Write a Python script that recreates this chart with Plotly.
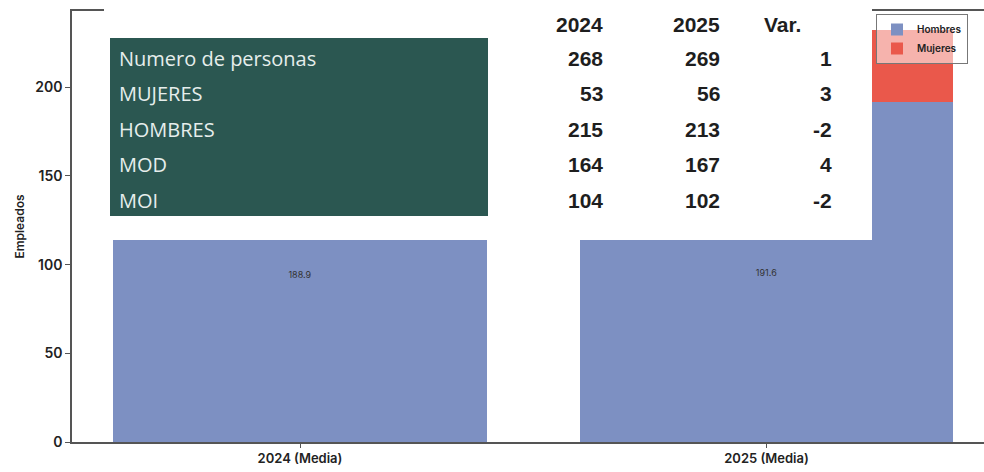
import plotly.graph_objects as go

# ---- data ----
categories = ["2024 (Media)", "2025 (Media)"]
hombres = [188.9, 191.6]
mujeres = [39.5, 40.5]

table_rows = ["Numero de personas", "MUJERES", "HOMBRES", "MOD", "MOI"]
table_headers = ["2024", "2025", "Var."]
vals_2024 = [268, 53, 215, 164, 104]
vals_2025 = [269, 56, 213, 167, 102]
vals_var = [1, 3, -2, 4, -2]

# ---- layout geometry (pixels) ----
W, H = 984, 472
ML, MR, MT, MB = 72, 0, 11, 30
PW, PH = W - ML - MR, H - MT - MB


def px(x):
    return (x - ML) / PW


def py(y):
    return (H - MB - y) / PH


fig = go.Figure()
fig.add_trace(go.Bar(
    x=categories, y=hombres, name="Hombres", marker_color="#7d90c2",
    marker_line_width=0, width=0.8,
    text=[f"{v:.1f}" for v in hombres], textposition="inside",
    insidetextanchor="middle", textfont=dict(size=9, color="#333333"),
))
fig.add_trace(go.Bar(
    x=categories, y=mujeres, name="Mujeres", marker_color="#ea584b",
    marker_line_width=0, width=0.8,
))

shapes = [
    dict(type="rect", xref="paper", yref="paper", x0=px(104), x1=px(872),
         y0=py(240), y1=py(-5), fillcolor="white", line_width=0, layer="above"),
    dict(type="rect", xref="paper", yref="paper", x0=px(110), x1=px(488),
         y0=py(216), y1=py(38), fillcolor="#2b5751", line_width=0, layer="above"),
]

annotations = []
row_y = [58, 94, 129, 164, 200]
for lab, y in zip(table_rows, row_y):
    annotations.append(dict(
        text=lab, xref="paper", yref="paper", x=px(117), y=py(y),
        xanchor="left", yanchor="middle", showarrow=False,
        font=dict(family="Open Sans", size=20, color="#e6eeec")))

num_font = dict(family="Liberation Sans Narrow, Liberation Sans", size=21, color="#1e1e1e")
col_right = [605, 722, 834]
for vals, xr in zip([vals_2024, vals_2025, vals_var], col_right):
    for v, y in zip(vals, row_y):
        annotations.append(dict(
            text=f"<b>{v}</b>", xref="paper", yref="paper", x=px(xr), y=py(y),
            xanchor="right", yanchor="middle", showarrow=False, font=num_font))
head_pos = [(605, "right"), (722, "right"), (762, "left")]
for h, (xp, anc) in zip(table_headers, head_pos):
    annotations.append(dict(
        text=f"<b>{h}</b>", xref="paper", yref="paper", x=px(xp), y=py(25),
        xanchor=anc, yanchor="middle", showarrow=False, font=num_font))

fig.update_layout(
    width=W, height=H,
    margin=dict(l=ML, r=MR, t=MT, b=MB),
    paper_bgcolor="white", plot_bgcolor="white",
    barmode="stack",
    showlegend=True,
    legend=dict(x=px(876), y=py(14), xanchor="left", yanchor="top",
                bgcolor="rgba(255,255,255,0.55)", bordercolor="#777777", borderwidth=1,
                traceorder="normal",
                font=dict(family="Inter", size=10, color="#222222", weight=600),
                itemwidth=30, tracegroupgap=0),
    shapes=shapes,
    annotations=annotations,
    font=dict(family="Inter", color="#222222"),
)
fig.update_xaxes(
    range=[-(300 - ML) / 466.5, 1 + (W - 766.5) / 466.5],
    showline=True, linecolor="#555555", linewidth=1.5, mirror=True,
    ticks="outside", ticklen=4, tickcolor="#555555",
    tickfont=dict(family="Inter", size=13, color="#222222", weight=600),
    showgrid=False, zeroline=False,
)
fig.update_yaxes(
    range=[0, 243], tickvals=[0, 50, 100, 150, 200],
    showline=True, linecolor="#555555", linewidth=1.5,
    ticks="outside", ticklen=5, tickcolor="#555555",
    tickfont=dict(family="Inter", size=14, color="#222222", weight=600),
    title=dict(text="Empleados",
               font=dict(family="Inter", size=12, color="#222222", weight=600), standoff=8),
    showgrid=False, zeroline=False,
)

fig.write_html("out.html")
